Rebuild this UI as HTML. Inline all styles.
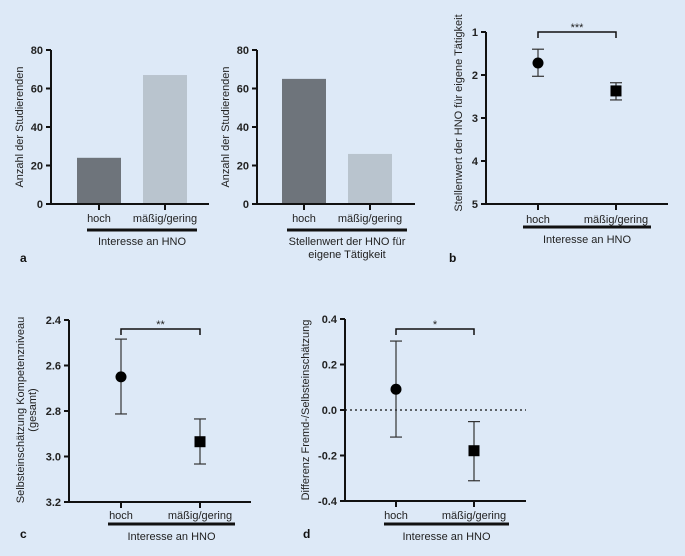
<!DOCTYPE html>
<html><head><meta charset="utf-8"><style>
html,body{margin:0;padding:0;background:#dde9f7;}
svg{display:block;font-family:"Liberation Sans",sans-serif;}
.tk{font-size:11px;font-weight:bold;fill:#222;}
.lb{font-size:11px;fill:#222;}
.pl{font-size:12px;font-weight:bold;fill:#111;}
</style></head><body>
<svg id="fig" width="685" height="556" viewBox="0 0 685 556">
<rect width="685" height="556" fill="#dde9f7"/>
</svg>
<script>
const barCats=["hoch","mäßig/gering"];
const barA1=[24,67];
const barA2=[65,26];
const barTicks=[0,20,40,60,80];
const ptCats=["hoch","mäßig/gering"];
const bMean=[1.72,2.37];
const bLo=[1.40,2.18];
const bHi=[2.03,2.58];
const bTicks=[1,2,3,4,5];
const cMean=[2.65,2.935];
const cLo=[2.484,2.835];
const cHi=[2.813,3.033];
const cTicks=[2.4,2.6,2.8,3.0,3.2];
const dMean=[0.091,-0.179];
const dLo=[-0.119,-0.311];
const dHi=[0.303,-0.051];
const dTicks=[0.4,0.2,0.0,-0.2,-0.4];

const svg=document.getElementById('fig');
const NS='http://www.w3.org/2000/svg';
function mk(tag,attrs,parent){const e=document.createElementNS(NS,tag);for(const k in attrs)e.setAttribute(k,attrs[k]);(parent||svg).appendChild(e);return e;}
function txt(x,y,s,cls,anchor,parent,rot){const e=mk('text',{x:x,y:y,class:cls,'text-anchor':anchor||'middle'},parent);if(rot)e.setAttribute('transform','rotate(-90 '+x+' '+y+')');e.textContent=s;return e;}

function axes(g,ax,yTop,yBot,xEnd,ticks,yfn,fmt,ylabel,ylx){
  const yl=mk('line',{x1:ax,y1:yTop,x2:ax,y2:yBot+1,stroke:'#111','stroke-width':2},g);
  
  
  const xl=mk('line',{x1:ax-5,y1:yBot,x2:xEnd,y2:yBot,stroke:'#111','stroke-width':2},g);
  
  
  ticks.forEach(v=>{
    const y=yfn(v);
    mk('line',{x1:ax-5,y1:y,x2:ax,y2:y,stroke:'#111','stroke-width':2},g);
    const t=txt(ax-8,y+4,fmt(v),'tk','end',g);
    
    
  });
  ylabel.forEach((s,i)=>{
    const t=txt(ylx[0]+i*12,ylx[1],s,'lb','middle',g,true);
    
    
  });
}
function xcats(g,xs,cats,yBot,labY,lineX1,lineX2,lineY,title,titleX,titleY){
  xs.forEach((x,i)=>{
    mk('line',{x1:x,y1:yBot,x2:x,y2:yBot+6,stroke:'#111','stroke-width':2},g);
    const t=txt(x,labY,cats[i],'lb','middle',g);
    
    
  });
  const l=mk('rect',{x:lineX1,y:lineY-1.5,width:lineX2-lineX1,height:3,fill:'#111'},g);
  
  
  title.forEach((s,i)=>{
    const t=txt(titleX,titleY+i*13,s,'lb','middle',g);
    
    
  });
}
function barPanel(name,ax,xs,vals,xEnd,lineX,title){
  const g=mk('g',{});
  
  
  const yfn=v=>204-(v/80)*154;
  vals.forEach((v,i)=>{
    const b=mk('rect',{x:xs[i]-22,y:yfn(v),width:44,height:204-yfn(v),fill:i==0?'#6e747b':'#b9c4ce'},g);
    
    
  });
  axes(g,ax,50,204,xEnd,barTicks,yfn,v=>String(v),['Anzahl der Studierenden'],[ax-28,127]);
  xcats(g,xs,barCats,204,222,lineX[0],lineX[1],230,title,(lineX[0]+lineX[1])/2,245);
}
barPanel('chart-a-interest',51,[99,165],barA1,209,[87,197],['Interesse an HNO']);
barPanel('chart-a-stellenwert',257,[304,370],barA2,415,[287,407],['Stellenwert der HNO für','eigene Tätigkeit']);

function ptPanel(name,cfg){
  const g=mk('g',{});
  
  
  const yfn=v=>cfg.yTop+(v-cfg.t0)/(cfg.t1-cfg.t0)*(cfg.yBot-cfg.yTop);
  axes(g,cfg.ax,cfg.yTop,cfg.yBot,cfg.xEnd,cfg.ticks,yfn,cfg.fmt,cfg.ylabel,cfg.ylx);
  if(cfg.zero){
    const z=mk('line',{x1:cfg.ax,y1:yfn(0),x2:cfg.xEnd,y2:yfn(0),stroke:'#111','stroke-width':1.2,'stroke-dasharray':'2,3'},g);
    
    
  }
  cfg.mean.forEach((m,i)=>{
    const x=cfg.xs[i];
    const eb=mk('g',{},g);
    
    
    mk('line',{x1:x,y1:yfn(cfg.lo[i]),x2:x,y2:yfn(cfg.hi[i]),stroke:'#333','stroke-width':1.2},eb);
    mk('line',{x1:x-6,y1:yfn(cfg.lo[i]),x2:x+6,y2:yfn(cfg.lo[i]),stroke:'#333','stroke-width':1.2},eb);
    mk('line',{x1:x-6,y1:yfn(cfg.hi[i]),x2:x+6,y2:yfn(cfg.hi[i]),stroke:'#333','stroke-width':1.2},eb);
    let p;
    if(i==0)p=mk('circle',{cx:x,cy:yfn(m),r:5.5,fill:'#000'},g);
    else p=mk('rect',{x:x-5.5,y:yfn(m)-5.5,width:11,height:11,fill:'#000'},g);
    
    
  });
  const bg=mk('g',{},g);
  
  
  mk('path',{d:'M'+cfg.xs[0]+' '+(cfg.bY+6)+'V'+cfg.bY+'H'+cfg.xs[1]+'V'+(cfg.bY+6),fill:'none',stroke:'#111','stroke-width':1.5},bg);
  const st=txt((cfg.xs[0]+cfg.xs[1])/2,cfg.bY-1,cfg.stars,'lb','middle',bg);
  
  
  xcats(g,cfg.xs,ptCats,cfg.yBot,cfg.labY,cfg.lineX[0],cfg.lineX[1],cfg.lineY,['Interesse an HNO'],(cfg.lineX[0]+cfg.lineX[1])/2,cfg.titleY);
}
ptPanel('chart-b',{ax:486,yTop:32,yBot:204,t0:1,t1:5,ticks:bTicks,fmt:v=>String(v),xEnd:668,xs:[538,616],
  mean:bMean,lo:bLo,hi:bHi,bY:32,stars:'***',ylabel:['Stellenwert der HNO für eigene Tätigkeit'],ylx:[462,113],
  labY:223,lineX:[523,651],lineY:227,titleY:243});
ptPanel('chart-c',{ax:69,yTop:320,yBot:502,t0:2.4,t1:3.2,ticks:cTicks,fmt:v=>v.toFixed(1),xEnd:251,xs:[121,200],
  mean:cMean,lo:cLo,hi:cHi,bY:329,stars:'**',ylabel:['Selbsteinschätzung Kompetenzniveau','(gesamt)'],ylx:[24,410],
  labY:519,lineX:[108,235],lineY:524,titleY:540});
ptPanel('chart-d',{ax:345,yTop:319,yBot:501,t0:0.4,t1:-0.4,ticks:dTicks,fmt:v=>v.toFixed(1),xEnd:526,xs:[396,474],
  mean:dMean,lo:dLo,hi:dHi,bY:329,stars:'*',zero:true,ylabel:['Differenz Fremd-/Selbsteinschätzung'],ylx:[309,410],
  labY:519,lineX:[384,509],lineY:524,titleY:540});

[['a',20,262],['b',449,262],['c',20,538],['d',303,538]].forEach(p=>{
  const t=txt(p[1],p[2],p[0],'pl','start');
  
  
});
</script>
</body></html>
